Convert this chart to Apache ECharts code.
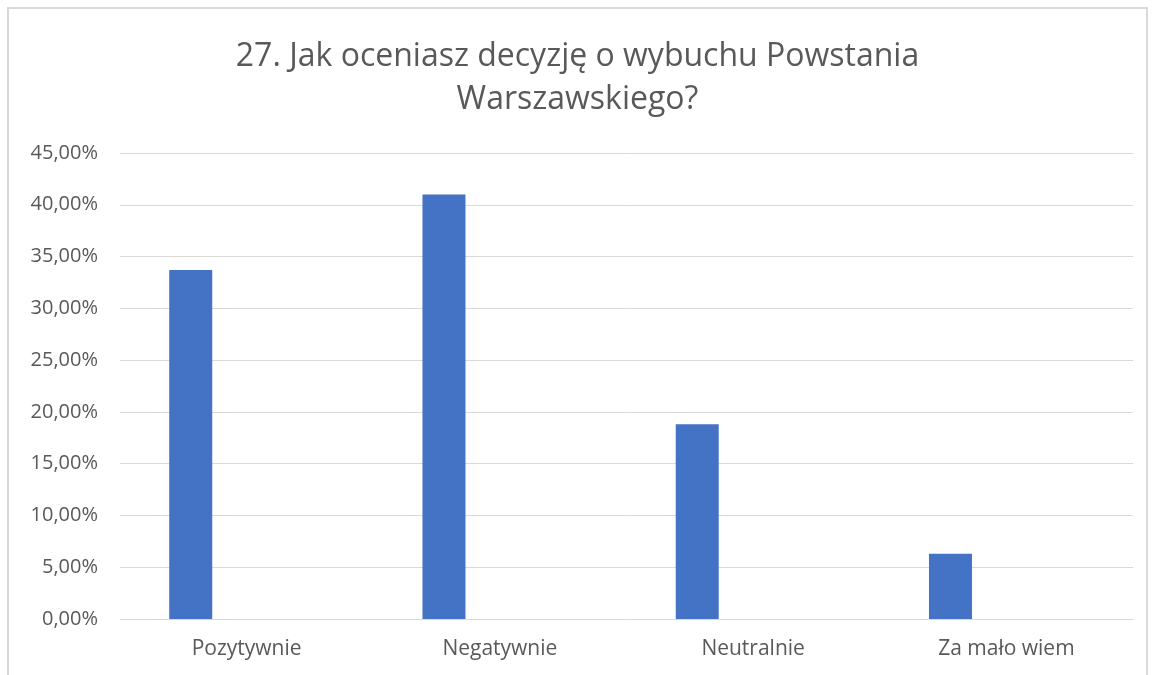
<!DOCTYPE html>
<html>
<head>
<meta charset="utf-8">
<script src="https://cdn.jsdelivr.net/npm/echarts@6/dist/echarts.min.js"></script>
<style>
  html, body { margin: 0; padding: 0; background: #fff; }
  #chart { width: 1155px; height: 675px; }
</style>
</head>
<body>
<div id="chart"></div>
<script>
var categories = ['Pozytywnie', 'Negatywnie', 'Neutralnie', 'Za mało wiem'];
var values = [33.7, 41.0, 18.8, 6.3];
var titleText = '27. Jak oceniasz decyzję o wybuchu Powstania\nWarszawskiego?';

var chart = echarts.init(document.getElementById('chart'));

var option = {
  backgroundColor: '#fff',
  textStyle: { fontFamily: 'Open Sans' },
  title: {
    text: titleText,
    left: 'center',
    top: 30,
    textStyle: {
      fontFamily: 'Open Sans',
      fontWeight: 'normal',
      fontSize: 32,
      lineHeight: 43,
      color: '#595959'
    }
  },
  graphic: [{
    type: 'rect',
    shape: { x: 8, y: 8, width: 1139, height: 700 },
    style: { fill: 'none', stroke: '#d9d9d9', lineWidth: 2 },
    silent: true
  }],
  grid: { left: 120, right: 22, top: 153, bottom: 56 },
  xAxis: {
    type: 'category',
    data: categories,
    axisLine: { show: true, lineStyle: { color: '#d9d9d9', width: 1 } },
    axisTick: { show: false },
    axisLabel: { color: '#595959', fontSize: 21, margin: 20 }
  },
  yAxis: {
    type: 'value',
    min: 0,
    max: 45,
    interval: 5,
    axisLine: { show: false },
    axisTick: { show: false },
    splitLine: { lineStyle: { color: '#d9d9d9', width: 1 } },
    axisLabel: {
      color: '#595959',
      fontSize: 20,
      margin: 22,
      formatter: function (v) { return v.toFixed(2).replace('.', ',') + '%'; }
    }
  },
  series: [{
    type: 'bar',
    data: values,
    barWidth: 43,
    barGap: '160%',
    itemStyle: { color: '#4472C4' }
  }, {
    type: 'bar',
    data: [],
    barWidth: 43
  }]
};

chart.setOption(option);
</script>
</body>
</html>
